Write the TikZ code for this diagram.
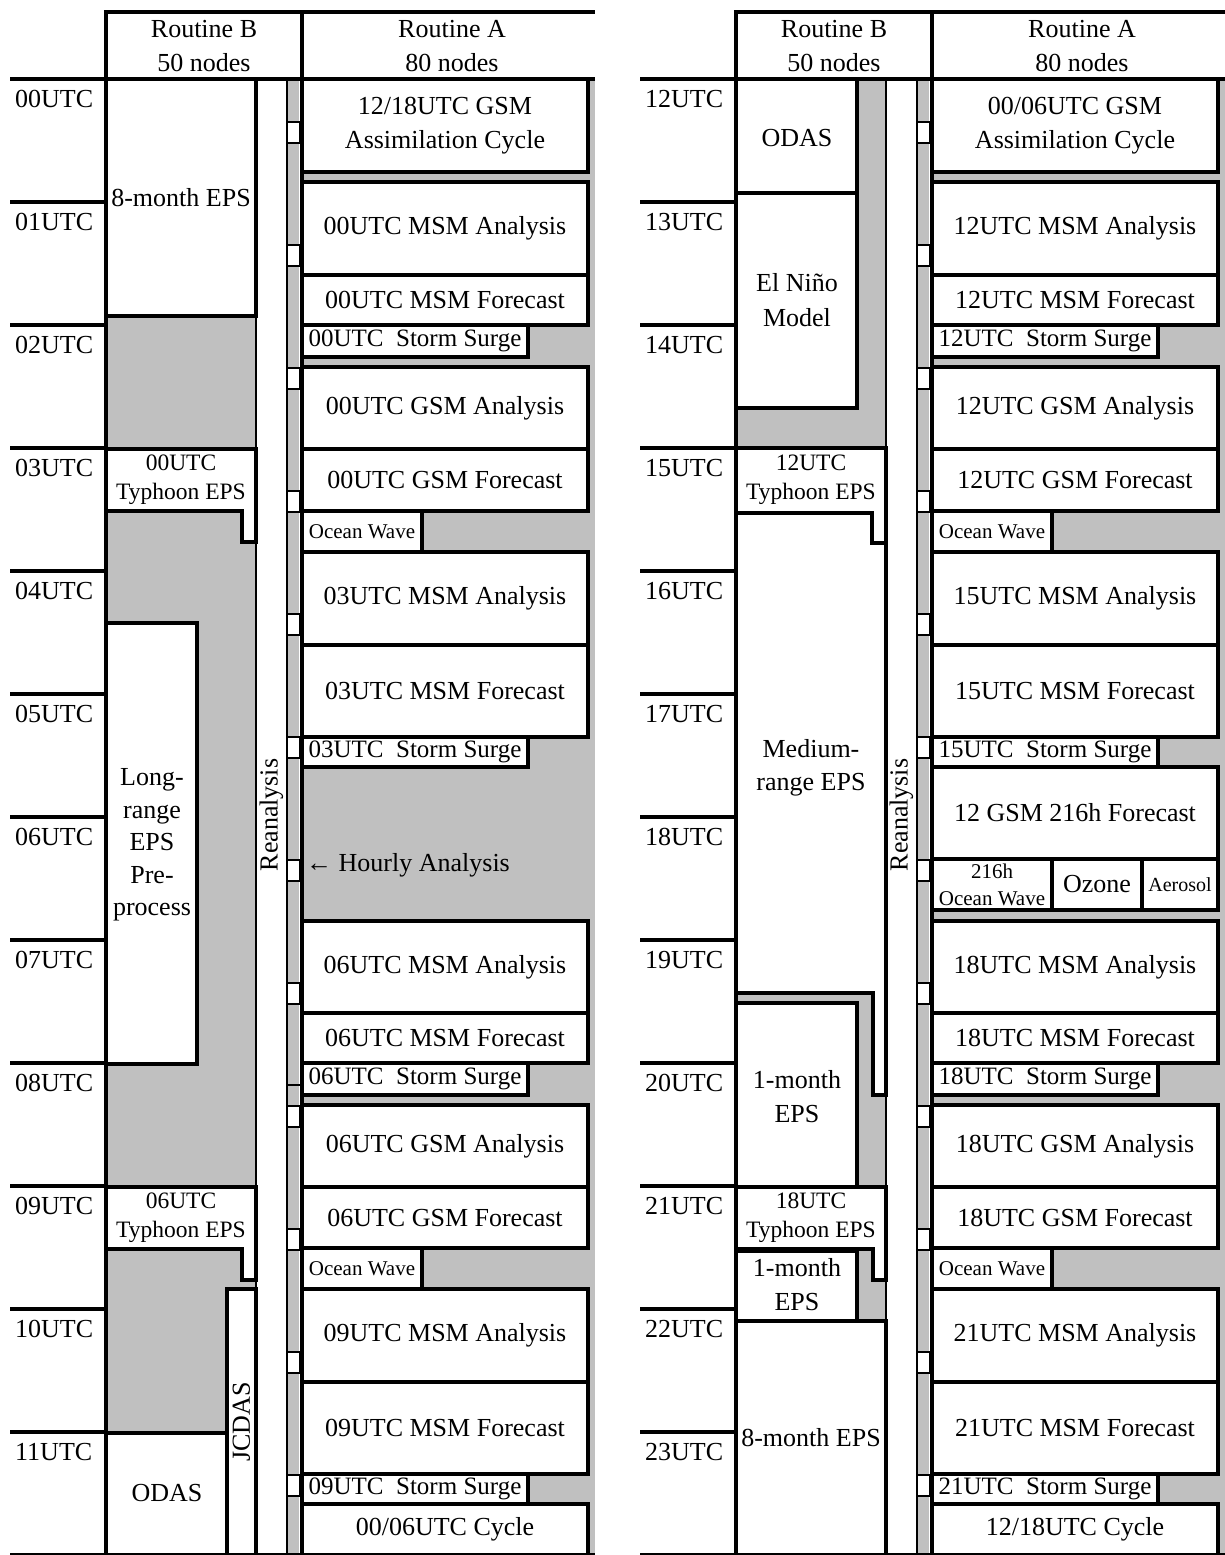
\documentclass[tikz,border=0pt]{standalone}
\usepackage{fontspec}
\setmainfont{Liberation Serif}
\definecolor{sil}{RGB}{192,192,192}
\tikzset{
  wbox/.style={draw=black, fill=white, line width=3.2pt},
  big/.style={font=\fontsize{26}{34}\selectfont, align=center, inner sep=0pt},
  surge/.style={font=\fontsize{25}{30}\selectfont, align=center, inner sep=0pt},
  mid/.style={font=\fontsize{23.5}{29}\selectfont, align=center, inner sep=0pt},
  sml/.style={font=\fontsize{21}{27}\selectfont, align=center, inner sep=0pt},
  aer/.style={font=\fontsize{20}{24}\selectfont, align=center, inner sep=0pt},
  rulebig/.style={line width=4.5pt},
  hourrule/.style={line width=3.5pt},
}
% #1 text style, #2 name, #3 x1, #4 y1, #5 x2, #6 y2, #7 text
\newcommand\rb[7][big]{%
  \draw[wbox] (#3,#4) rectangle (#5,#6);
  \path (#3,#4) -- (#5,#6) node[midway,#1] (#2) {#7};}
% background of one panel
\newcommand\panelback{%
  \fill[sil] (106,79) rectangle (256,1555);
  \fill[sil] (287,79) rectangle (299,1555);
  \fill[sil] (302,79) rectangle (595,1555);
  \fill[white] (256,79) rectangle (287,1555);
  \node[big, rotate=90] (rean) at (271.5,815) {Reanalysis};}
% common Routine A boxes; #1..#4 hours
\newcommand\acol[4]{%
  \rb{a2}{302}{182}{588}{275}{#1UTC MSM Analysis}
  \rb{a3}{302}{275}{588}{325}{#1UTC MSM Forecast}
  \rb[surge]{a4}{302}{325}{528}{357}{#1UTC\ \ Storm Surge}
  \rb{a5}{302}{367}{588}{449}{#1UTC GSM Analysis}
  \rb{a6}{302}{449}{588}{511}{#1UTC GSM Forecast}
  \rb[sml]{a7}{302}{511}{422}{552}{Ocean Wave}
  \rb{a8}{302}{552}{588}{645}{#2UTC MSM Analysis}
  \rb{a9}{302}{645}{588}{737}{#2UTC MSM Forecast}
  \rb[surge]{a10}{302}{737}{528}{767}{#2UTC\ \ Storm Surge}
  \rb{a12}{302}{921}{588}{1013}{#3UTC MSM Analysis}
  \rb{a13}{302}{1013}{588}{1063}{#3UTC MSM Forecast}
  \rb[surge]{a14}{302}{1063}{528}{1095}{#3UTC\ \ Storm Surge}
  \rb{a15}{302}{1105}{588}{1187}{#3UTC GSM Analysis}
  \rb{a16}{302}{1187}{588}{1248}{#3UTC GSM Forecast}
  \rb[sml]{a17}{302}{1248}{422}{1289}{Ocean Wave}
  \rb{a18}{302}{1289}{588}{1382}{#4UTC MSM Analysis}
  \rb{a19}{302}{1382}{588}{1474}{#4UTC MSM Forecast}
  \rb[surge]{a20}{302}{1474}{528}{1504}{#4UTC\ \ Storm Surge}}
% rules, header and hour labels; #1 hour offset
\newcommand\panelfront[1]{%
  \foreach \k in {0,...,11}{
    \draw[line width=2pt, fill=white] (287,79+123*\k+43) rectangle (300,79+123*\k+64);
  }
  \draw[line width=2.5pt] (256,79) -- (256,1555);
  \draw[line width=2pt] (287,79) -- (287,1555);
  \fill[white] (106,12) rectangle (595,79);
  \node[big] (hb) at (204,46) {Routine B\\50 nodes};
  \node[big] (ha) at (452,46) {Routine A\\80 nodes};
  \draw[rulebig] (103.75,12) -- (595,12);
  \draw[rulebig] (10,79) -- (595,79);
  \foreach \k in {1,...,11}{
    \draw[hourrule] (10,79+123*\k) -- (106,79+123*\k);
  }
  \draw[line width=2pt] (10,1554) -- (595,1554);
  \draw[rulebig] (106,12) -- (106,1555);
  \draw[rulebig] (302,12) -- (302,1555);
  \foreach \k in {0,...,11}{
    \pgfmathtruncatemacro\hh{\k+#1}
    \node[big, anchor=base west] (t\k) at (15,79+123*\k+28) {\ifnum\hh<10 0\fi\hh UTC};
  }}
\begin{document}
\begin{tikzpicture}[x=1pt,y=-1pt]
\useasboundingbox (0,0) rectangle (1225,1555);
\fill[white] (0,0) rectangle (1225,1555);

% ================= LEFT PANEL =================
\begin{scope}[name prefix=L-]
\panelback
% Routine B
\draw[wbox] (106,79) rectangle (256,316);
\node[big] (b8m) at (181,198) {8-month EPS};
\draw[wbox] (106,449) -- (256,449) -- (256,542) -- (242,542) -- (242,511) -- (106,511) -- cycle;
\node[mid] (bty0) at (181,480) {00UTC\\Typhoon EPS};
\draw[wbox] (106,623) rectangle (197,1064);
\node[big, font=\fontsize{26}{32.5}\selectfont] (blr) at (152,845) {Long-\\range\\EPS\\Pre-\\process};
\draw[wbox] (106,1187) -- (256,1187) -- (256,1280) -- (242,1280) -- (242,1249) -- (106,1249) -- cycle;
\node[mid] (bty6) at (181,1218) {06UTC\\Typhoon EPS};
\draw[wbox] (227,1289) rectangle (256,1560);
\node[big, rotate=90] (bjc) at (241.5,1422) {JCDAS};
\draw[wbox] (106,1433) rectangle (227,1560);
\node[big] (bodas) at (167,1493) {ODAS};
% Routine A
\rb{a1}{302}{79}{588}{172}{12/18UTC GSM\\Assimilation Cycle}
\acol{00}{03}{06}{09}
\node[big, anchor=west] (hourly) at (306,865) {← Hourly Analysis};
\rb{a21}{302}{1504}{588}{1555}{00/06UTC Cycle}
\draw[line width=1.5pt] (287,1085) -- (300,1085);
\panelfront{0}
\end{scope}

% ================= RIGHT PANEL =================
\begin{scope}[shift={(630,0)}, name prefix=R-]
\panelback
% Routine B
\draw[wbox] (106,79) rectangle (227,193);
\node[big] (bodas) at (167,138) {ODAS};
\draw[wbox] (106,193) rectangle (227,408);
\node[big, font=\fontsize{26}{35}\selectfont] (bnino) at (167,300) {El Niño\\Model};
\draw[wbox] (106,448) -- (256,448) -- (256,543) -- (242,543) -- (242,513) -- (106,513) -- cycle;
\node[mid] (bty12) at (181,480) {12UTC\\Typhoon EPS};
\draw[wbox] (106,513) -- (242,513) -- (242,543) -- (256,543) -- (256,1095) -- (243,1095) -- (243,993) -- (106,993) -- cycle;
\node[big, font=\fontsize{26}{33}\selectfont] (bmed) at (181,768) {Medium-\\range EPS};
\draw[wbox] (106,1003) rectangle (227,1187);
\node[big] (b1m) at (167,1097) {1-month\\EPS};
\draw[wbox] (106,1187) -- (256,1187) -- (256,1280) -- (243,1280) -- (243,1249) -- (106,1249) -- cycle;
\node[mid] (bty18) at (181,1218) {18UTC\\Typhoon EPS};
\draw[wbox] (106,1251) rectangle (227,1321);
\node[big] (b1mb) at (167,1285) {1-month\\EPS};
\draw[wbox] (106,1321) rectangle (256,1560);
\node[big] (b8m) at (181,1438) {8-month EPS};
% Routine A
\rb{a1}{302}{79}{588}{172}{00/06UTC GSM\\Assimilation Cycle}
\acol{12}{15}{18}{21}
\rb{a11}{302}{767}{588}{859}{12 GSM 216h Forecast}
\rb[sml]{a11b}{302}{859}{422}{910}{216h\\Ocean Wave}
\rb{a11c}{422}{859}{512}{910}{Ozone}
\rb[aer]{a11d}{512}{859}{588}{910}{Aerosol}
\rb{a21}{302}{1504}{588}{1555}{12/18UTC Cycle}
\panelfront{12}
\end{scope}
\end{tikzpicture}
\end{document}
